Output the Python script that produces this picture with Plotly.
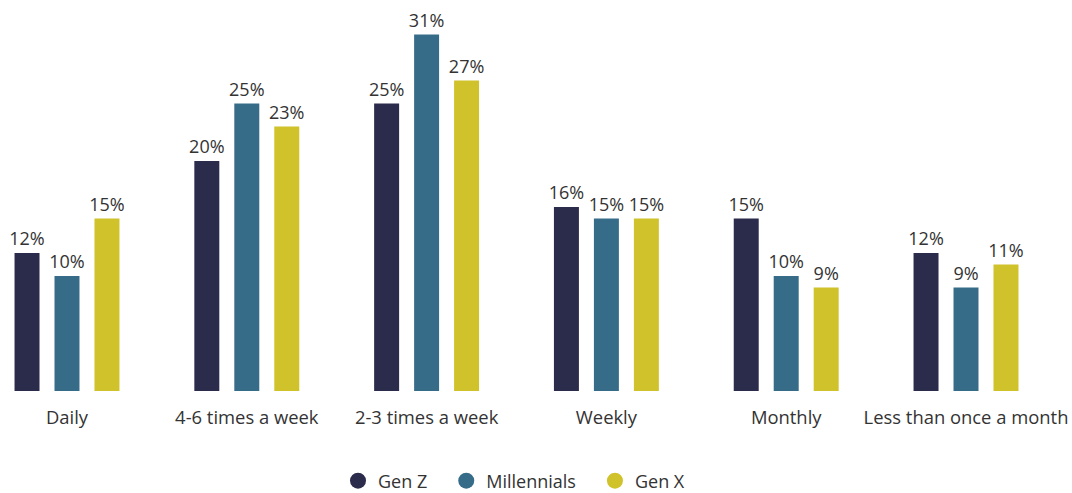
import plotly.graph_objects as go

categories = ["Daily", "4-6 times a week", "2-3 times a week", "Weekly", "Monthly", "Less than once a month"]
gen_z = [12, 20, 25, 16, 15, 12]
millennials = [10, 25, 31, 15, 10, 9]
gen_x = [15, 23, 27, 15, 9, 11]

series = [
    ("Gen Z", gen_z, "#2b2b4b"),
    ("Millennials", millennials, "#376c89"),
    ("Gen X", gen_x, "#d0c22b"),
]

W, H = 1072, 493
PAD = "\u00a0\u00a0\u00a0"

fig = go.Figure()
for name, vals, color in series:
    fig.add_trace(go.Bar(
        name=name, x=categories, y=vals,
        marker=dict(color=color, line=dict(width=0)),
        text=[f"{v}%" for v in vals], textposition="outside",
        textfont=dict(family="Open Sans", size=18, color="#333333"),
        constraintext="none",
        cliponaxis=False, showlegend=False,
    ))
for name, vals, color in series:
    fig.add_trace(go.Scatter(
        name=name + PAD, x=[None], y=[None], mode="markers",
        marker=dict(color=color, size=16, symbol="circle"),
        showlegend=True,
    ))

fig.update_layout(
    width=W, height=H,
    margin=dict(l=0, r=0, t=0, b=102),
    paper_bgcolor="white", plot_bgcolor="white",
    barmode="group", bargap=0.333, bargroupgap=0.375,
    font=dict(family="Open Sans", size=18, color="#333333"),
    xaxis=dict(range=[-0.3726, 5.5895], showgrid=False, showline=False, ticks="",
               tickfont=dict(size=18.4, color="#333333"), ticklabelstandoff=14),
    yaxis=dict(range=[0, 391/11.5], visible=False),
    showlegend=True,
    legend=dict(orientation="h", x=(360 - 22) / W, xanchor="left", y=1 - 481/H, yanchor="middle",
                yref="container",
                font=dict(size=18, color="#333333"), itemsizing="trace",
                traceorder="normal"),
)
fig.write_html("out.html", config={"displayModeBar": False},
               post_script="document.body.style.margin='0';document.body.style.overflow='hidden';")
